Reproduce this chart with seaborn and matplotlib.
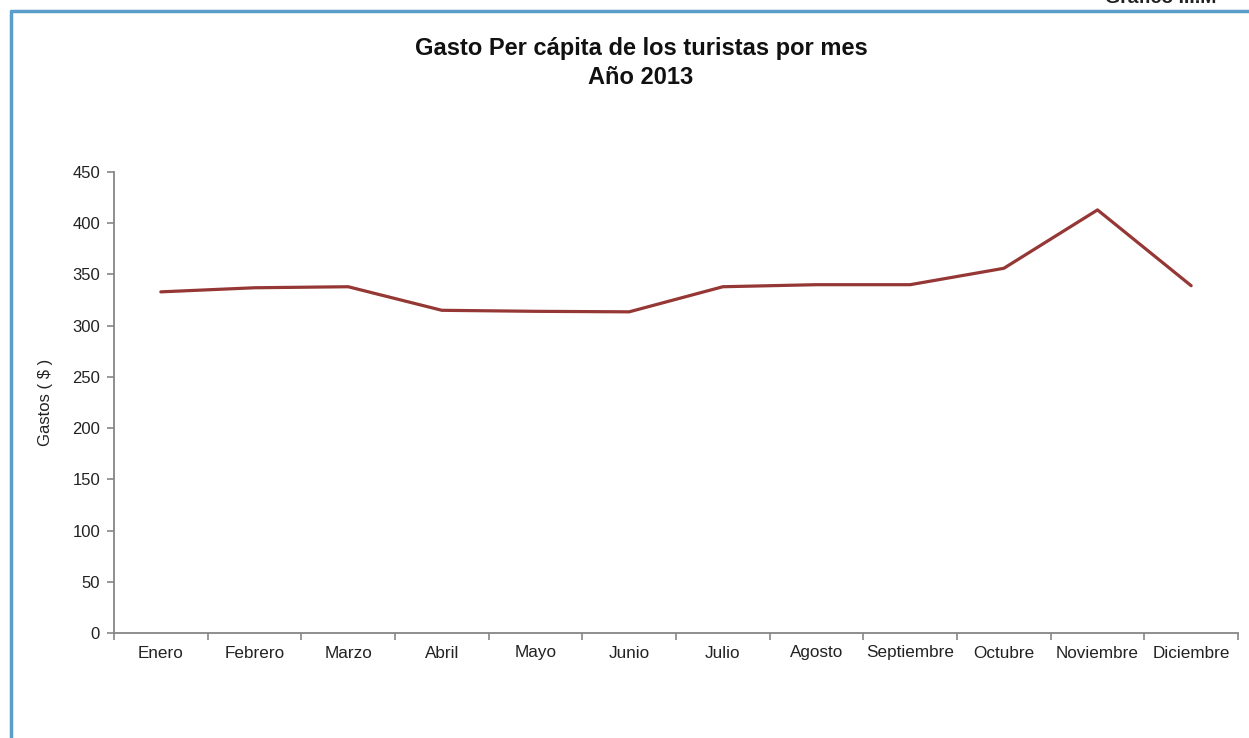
import matplotlib
matplotlib.use("Agg")
import matplotlib.pyplot as plt
import seaborn as sns
import pandas as pd
from matplotlib.lines import Line2D

meses = ["Enero", "Febrero", "Marzo", "Abril", "Mayo", "Junio", "Julio",
         "Agosto", "Septiembre", "Octubre", "Noviembre", "Diciembre"]
gastos = [333, 337, 338, 315, 314, 313.5, 338, 340, 340, 356, 413, 339]
yticks = [0, 50, 100, 150, 200, 250, 300, 350, 400, 450]

sns.set_style("white")
plt.rcParams['font.family'] = ['Liberation Sans', 'DejaVu Sans']

W, H = 1249, 738
fig = plt.figure(figsize=(W / 100, H / 100), dpi=100)
ax = fig.add_axes([114 / W, 1 - 633 / H, (1238 - 114) / W, (633 - 172) / H])

df = pd.DataFrame({"mes": meses, "gasto": gastos, "pos": range(len(meses))})
sns.lineplot(data=df, x="pos", y="gasto", ax=ax, color="#953735", linewidth=2.3)

ax.set_xlim(-0.5, len(meses) - 0.5)
ax.set_ylim(0, 450)
ax.set_yticks(yticks)
ax.set_yticklabels([str(v) for v in yticks], fontsize=12, color="#222222")
ax.set_xticks(range(len(meses)))
ax.set_xticklabels(meses, fontsize=12.3, color="#222222")
ax.set_xticks([i - 0.5 for i in range(len(meses) + 1)], minor=True)
ax.tick_params(axis="x", which="major", length=0, pad=9, bottom=False)
ax.tick_params(axis="x", which="minor", length=5, color="#868686", width=1.2,
               direction="out", bottom=True)
ax.tick_params(axis="y", length=5, color="#868686", width=1.2, direction="out", left=True, pad=5)
ax.set_xlabel("")
ax.set_ylabel("Gastos ( $ )", fontsize=12, color="#222222", labelpad=14)
for s in ["top", "right"]:
    ax.spines[s].set_visible(False)
for s in ["left", "bottom"]:
    ax.spines[s].set_color("#868686")
    ax.spines[s].set_linewidth(1.3)

fig.text(641 / W, 1 - 48 / H, "Gasto Per cápita de los turistas por mes", ha="center", va="center",
         fontsize=17, fontweight="bold", color="#111111")
fig.text(641 / W, 1 - 77 / H, "Año 2013", ha="center", va="center",
         fontsize=17, fontweight="bold", color="#111111")
fig.text(1105 / W, 1 - 3 / H, "Gráfico III.M", ha="left", va="baseline",
         fontsize=14, fontweight="bold", color="#222222")

# blue frame lines
fig.add_artist(Line2D([10 / W, 1], [1 - 10.5 / H, 1 - 10.5 / H], transform=fig.transFigure,
                      color="#5b9ec9", linewidth=2.5, solid_capstyle="butt"))
fig.add_artist(Line2D([10.5 / W, 10.5 / W], [0, 1 - 10 / H], transform=fig.transFigure,
                      color="#5b9ec9", linewidth=2.5, solid_capstyle="butt"))

fig.savefig("out.png", dpi=100)
